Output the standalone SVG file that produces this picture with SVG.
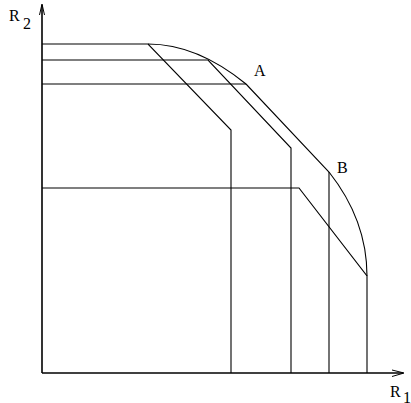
<svg xmlns="http://www.w3.org/2000/svg" width="411" height="403" viewBox="0 0 411 403">
<style>
.ln{fill:none;stroke:#000;stroke-width:1.1}
.ax{fill:none;stroke:#000;stroke-width:1.6}
.ar{fill:none;stroke:#000;stroke-width:1}
text{font-family:"Liberation Serif","Times New Roman",serif;font-size:16px;fill:#000}
</style>
<rect width="411" height="403" fill="#fff"/>
<g id="axes">
<path class="ax" d="M42,373 V5"/>
<path class="ax" d="M42,373 H403"/>
<path class="ar" d="M39.5,15 L42,4 L44.5,15"/>
<path class="ar" d="M392,370 L404,373 L392,376.5"/>
<text x="9" y="21">R</text>
<text x="23" y="29">2</text>
<text x="390" y="397">R</text>
<text x="403" y="403">1</text>
</g>
<g id="boundary">
<path class="ln" d="M148,44 Q197,44 246,84 L329,172 Q367,220 367,276"/>
<text x="254" y="76">A</text>
<text x="337" y="173">B</text>
</g>
<g id="regions">
<path class="ln" d="M42,44 H148 L231,130 V373"/>
<path class="ln" d="M42,60 H208 L291,148 V373"/>
<path class="ln" d="M42,84 H246"/>
<path class="ln" d="M329,172 V373"/>
<path class="ln" d="M42,188 H299 L367,276 V373"/>
</g>
</svg>
